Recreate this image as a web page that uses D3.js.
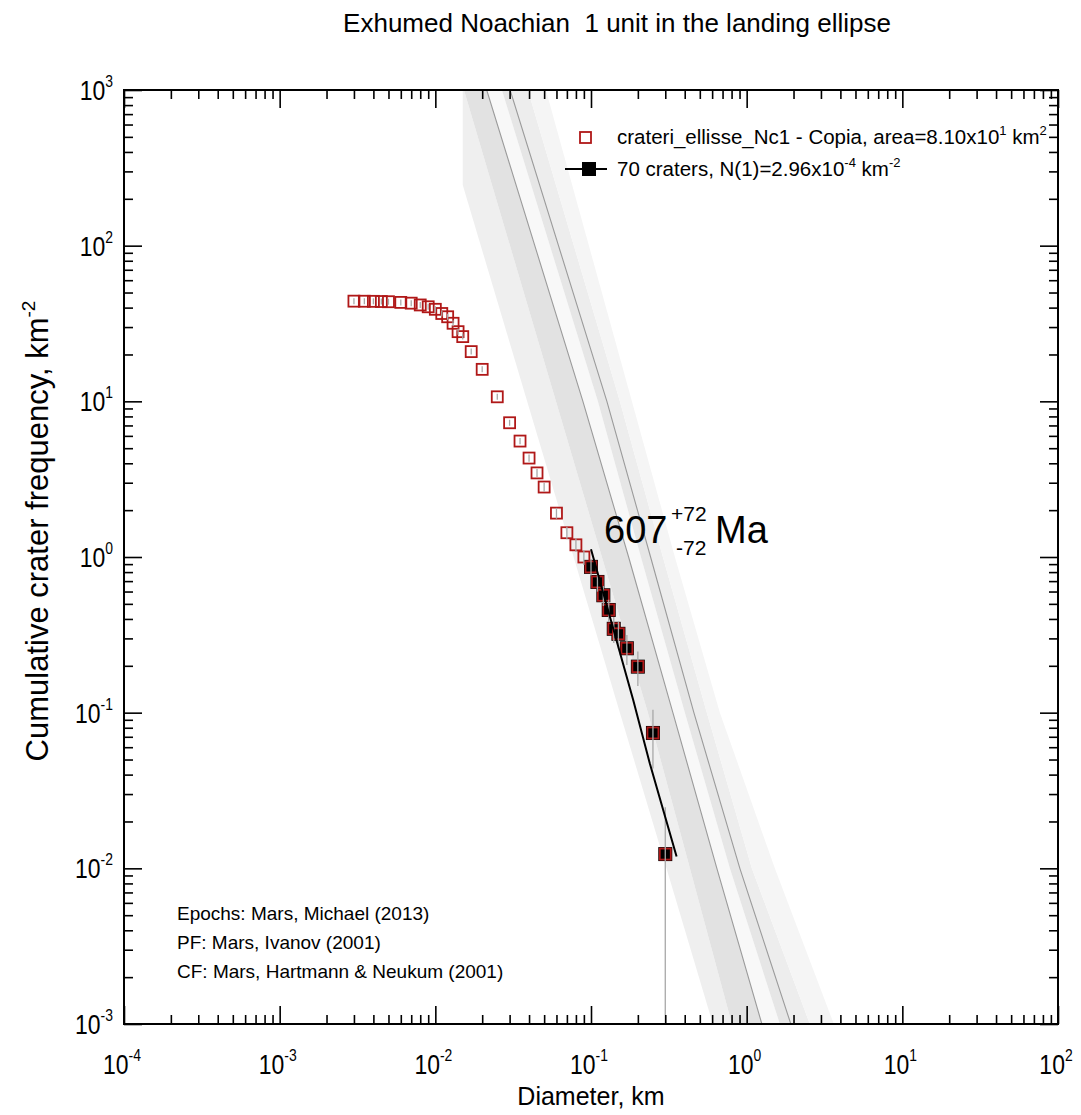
<!DOCTYPE html>
<html>
<head>
<meta charset="utf-8">
<script src="https://cdn.jsdelivr.net/npm/d3@7"></script>
<style>
  body { margin: 0; background: #fff; }
  text { font-family: "Liberation Sans", Arial, Helvetica, sans-serif; fill: #000; }
</style>
</head>
<body>
<svg id="chart" width="1081" height="1115"></svg>
<script>
// ---- crater count: bin diameters (km) and cumulative crater counts ----
const diameters = [0.003, 0.0035, 0.004, 0.0045, 0.005, 0.006, 0.007, 0.008, 0.009,
  0.01, 0.011, 0.012, 0.013, 0.014, 0.015, 0.017, 0.02, 0.025, 0.03, 0.035, 0.04,
  0.045, 0.05, 0.06, 0.07, 0.08, 0.09, 0.1, 0.11, 0.12, 0.13, 0.14, 0.15, 0.17,
  0.2, 0.25, 0.3];
const cumCounts = [3565, 3560, 3555, 3545, 3535, 3500, 3460, 3370, 3280,
  3160, 2970, 2830, 2570, 2270, 2110, 1690, 1300, 866, 590, 450, 350,
  281, 228, 155, 116, 97, 81, 70, 56, 46, 37, 28, 26, 21,
  16, 6, 1];
const countArea = 81.0;            // km^2
const fitRange = [0.1, 0.3];       // km, bins used in the fit

// fitted isochron (607 Ma) over the fit range: [D km, N km^-2]
const fitIsochron = [[0.1, 1.12], [0.1867, 0.1207], [0.2385, 0.0473], [0.3546, 0.01191]];

// ---- epoch shading: boundary curves sampled at fixed N rows ----
const epochRowsN = [1000, 10, 1, 0.1, 0.01, 0.001];
const edgeA = [[0.015, 1000], [0.015, 245], [0.03888, 10], [0.07731, 1], [0.1533, 0.1], [0.3054, 0.01], [0.6066, 0.001]];
const edgeB = [0.01527, 0.05952, 0.1175, 0.2320, 0.4317, 0.8034];
const edgeAH = [0.02138, 0.08872, 0.1744, 0.3357, 0.6435, 1.2521];   // Amazonian / Hesperian
const edgeD = [0.02677, 0.1107, 0.2092, 0.4010, 0.7800, 1.634];
const edgeHN = [0.03023, 0.1265, 0.2414, 0.4580, 0.9042, 1.922];    // Hesperian / Noachian
const edgeF = [0.03934, 0.1533, 0.2896, 0.5552, 1.080, 2.546];
const edgeG = [0.05133, 0.1831, 0.3458, 0.6729, 1.517, 3.631];
const bandFills = ["#efefef", "#e2e2e2", "#f8f8f8", "#e6e6e6", "#ededed", "#f5f5f5"];

// ---- axis ticks ----
const xMajor = [-4, -3, -2, -1, 0, 1, 2];
const yMajor = [-3, -2, -1, 0, 1, 2, 3];

const titleText = "Exhumed Noachian  1 unit in the landing ellipse";
const notes = ["Epochs: Mars, Michael (2013)", "PF: Mars, Ivanov (2001)", "CF: Mars, Hartmann & Neukum (2001)"];

// ---------------------------------------------------------------
const svg = d3.select("#chart");
const L = 124, R = 1058, T = 90, B = 1024;
const x = d3.scaleLog().domain([1e-4, 1e2]).range([L, R]);
const y = d3.scaleLog().domain([1e-3, 1e3]).range([B, T]);

svg.append("defs").append("clipPath").attr("id", "plotclip")
  .append("rect").attr("x", L).attr("y", T).attr("width", R - L).attr("height", B - T);

const plot = svg.append("g").attr("clip-path", "url(#plotclip)");

// epoch bands
const rowPts = arr => arr.map((d, i) => [d, epochRowsN[i]]);
const edges = [edgeA, rowPts(edgeB), rowPts(edgeAH), rowPts(edgeD), rowPts(edgeHN), rowPts(edgeF), rowPts(edgeG)];
const line = d3.line().x(d => x(d[0])).y(d => y(d[1]));
for (let i = 0; i < edges.length - 1; i++) {
  const poly = edges[i].concat(edges[i + 1].slice().reverse());
  plot.append("path").attr("d", line(poly) + "Z").attr("fill", bandFills[i]).attr("stroke", "none");
}
// period boundary isochrons
[edgeAH, edgeHN].forEach(e => {
  plot.append("path").attr("d", line(rowPts(e))).attr("fill", "none")
    .attr("stroke", "#9a9a9a").attr("stroke-width", 1.1);
});

// data
const pts = diameters.map((d, i) => {
  const n = cumCounts[i];
  return { d, n, N: n / countArea, sig: Math.sqrt(n) / countArea, fit: d >= fitRange[0] && d <= fitRange[1] };
});

// fitted squares: black body with red outline
plot.selectAll("rect.fitback").data(pts.filter(p => p.fit)).join("rect")
  .attr("x", p => x(p.d) - 7).attr("y", p => y(p.N) - 7).attr("width", 14).attr("height", 14)
  .attr("fill", "#000");
plot.selectAll("rect.obs").data(pts).join("rect")
  .attr("x", p => x(p.d) - 5.5).attr("y", p => y(p.N) - 5.5).attr("width", 11).attr("height", 11)
  .attr("fill", p => p.fit ? "#000" : "none")
  .attr("stroke", "#b01818").attr("stroke-width", 1.8);

// error bars
plot.selectAll("line.err").data(pts).join("line")
  .attr("x1", p => x(p.d)).attr("x2", p => x(p.d))
  .attr("y1", p => Math.min(y(p.N + p.sig), y(p.N) - 3))
  .attr("y2", p => p.N - p.sig <= 0 ? B : Math.max(y(p.N - p.sig), y(p.N) + 3))
  .attr("stroke", "#a8a8a8").attr("stroke-width", 1.3);

// fit line
plot.append("path").attr("d", line(fitIsochron)).attr("fill", "none")
  .attr("stroke", "#000").attr("stroke-width", 2);

// frame + ticks
const minorVals = (lo, hi) => {
  const v = [];
  for (let e = lo; e < hi; e++) for (let m = 2; m <= 9; m++) v.push(m * Math.pow(10, e));
  return v;
};
const xMinor = minorVals(-4, 2), yMinor = minorVals(-3, 3);
const xMaj = xMajor.map(e => Math.pow(10, e)), yMaj = yMajor.map(e => Math.pow(10, e));

function tickGroup(axisFn, scale, vals, size, transform) {
  svg.append("g").attr("transform", transform)
    .call(axisFn(scale).tickValues(vals).tickSize(size).tickFormat(""))
    .call(g => g.select(".domain").remove())
    .call(g => g.selectAll("line").attr("stroke", "#000").attr("stroke-width", 1.6));
}
tickGroup(d3.axisBottom, x, xMinor, -9, `translate(0,${B})`);
tickGroup(d3.axisBottom, x, xMaj, -18, `translate(0,${B})`);
tickGroup(d3.axisTop, x, xMinor, -9, `translate(0,${T})`);
tickGroup(d3.axisTop, x, xMaj, -18, `translate(0,${T})`);
tickGroup(d3.axisLeft, y, yMinor, -9, `translate(${L},0)`);
tickGroup(d3.axisLeft, y, yMaj, -18, `translate(${L},0)`);
tickGroup(d3.axisRight, y, yMinor, -9, `translate(${R},0)`);
tickGroup(d3.axisRight, y, yMaj, -18, `translate(${R},0)`);

svg.append("rect").attr("x", L).attr("y", T).attr("width", R - L).attr("height", B - T)
  .attr("fill", "none").attr("stroke", "#000").attr("stroke-width", 2);

// tick labels: 10 with superscript exponent, in a narrow face
function powLabel(px, py, e, anchor) {
  const g = svg.append("g").attr("transform", `translate(${px},${py}) scale(0.82,1)`);
  const t = g.append("text").attr("text-anchor", anchor).style("font-size", "28px");
  t.append("tspan").text("10");
  t.append("tspan").attr("dy", -13).style("font-size", "17px").text(e);
  return t;
}
xMajor.forEach(e => powLabel(x(Math.pow(10, e)) - 2, B + 50, e, "middle"));
yMajor.forEach(e => powLabel(L - 11, y(Math.pow(10, e)) + 10, e, "end"));

// axis titles
svg.append("text").attr("x", (L + R) / 2).attr("y", 1105).attr("text-anchor", "middle")
  .style("font-size", "25px").text("Diameter, km");
const yt = svg.append("text").attr("transform", `translate(48,531) rotate(-90)`)
  .attr("text-anchor", "middle").style("font-size", "31px");
yt.append("tspan").text("Cumulative crater frequency, km");
yt.append("tspan").attr("dy", -13).style("font-size", "19px").text("-2");

// title
svg.append("text").attr("x", 617).attr("y", 32).attr("text-anchor", "middle")
  .style("font-size", "26px").style("white-space", "pre").text(titleText);

// legend
const lg = svg.append("g");
lg.append("rect").attr("x", 580).attr("y", 132).attr("width", 11).attr("height", 11)
  .attr("fill", "none").attr("stroke", "#b01818").attr("stroke-width", 1.8);
const l1 = lg.append("text").attr("x", 617).attr("y", 144).style("font-size", "20.5px");
l1.append("tspan").text("crateri_ellisse_Nc1 - Copia, area=8.10x10");
l1.append("tspan").attr("dy", -9).style("font-size", "13px").text("1");
l1.append("tspan").attr("dy", 9).text(" km");
l1.append("tspan").attr("dy", -9).style("font-size", "13px").text("2");
lg.append("line").attr("x1", 565).attr("x2", 607).attr("y1", 169).attr("y2", 169)
  .attr("stroke", "#000").attr("stroke-width", 2);
lg.append("rect").attr("x", 582).attr("y", 162).attr("width", 14).attr("height", 14).attr("fill", "#000");
const l2 = lg.append("text").attr("x", 617).attr("y", 176).style("font-size", "20.5px");
l2.append("tspan").text("70 craters, N(1)=2.96x10");
l2.append("tspan").attr("dy", -9).style("font-size", "13px").text("-4");
l2.append("tspan").attr("dy", 9).text(" km");
l2.append("tspan").attr("dy", -9).style("font-size", "13px").text("-2");

// age label
const age = svg.append("g");
age.append("text").attr("x", 604).attr("y", 543).style("font-size", "38px").text("607");
age.append("text").attr("x", 671).attr("y", 521).style("font-size", "21px").text("+72");
age.append("text").attr("x", 676).attr("y", 555).style("font-size", "21px").text("-72");
age.append("text").attr("x", 715).attr("y", 543).style("font-size", "38px").text("Ma");

// notes
notes.forEach((s, i) => {
  svg.append("text").attr("x", 177).attr("y", 920 + i * 29).style("font-size", "19px").text(s);
});
</script>
</body>
</html>
